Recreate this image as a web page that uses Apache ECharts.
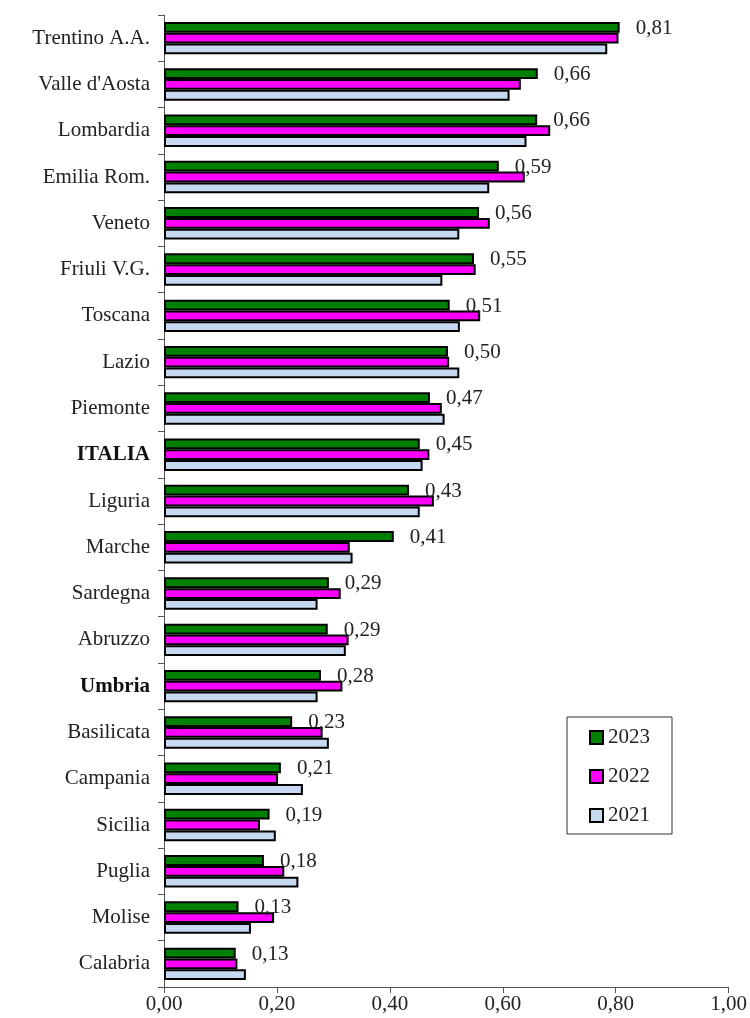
<!DOCTYPE html>
<html>
<head>
<meta charset="utf-8">
<script src="https://cdn.jsdelivr.net/npm/echarts@6/dist/echarts.min.js"></script>
<style>
html,body{margin:0;padding:0;background:#fff;}
#chart{width:750px;height:1018px;}
</style>
</head>
<body>
<div id="chart"></div>
<script>
const categories = ["Trentino A.A.","Valle d'Aosta","Lombardia","Emilia Rom.","Veneto","Friuli V.G.","Toscana","Lazio","Piemonte","ITALIA","Liguria","Marche","Sardegna","Abruzzo","Umbria","Basilicata","Campania","Sicilia","Puglia","Molise","Calabria"];
const boldCategories = ["ITALIA","Umbria"];
const values2023 = [0.807,0.662,0.661,0.593,0.558,0.549,0.506,0.503,0.471,0.453,0.434,0.407,0.292,0.290,0.278,0.227,0.207,0.187,0.177,0.132,0.127];
const values2022 = [0.805,0.632,0.684,0.639,0.577,0.552,0.560,0.505,0.492,0.470,0.478,0.329,0.313,0.327,0.316,0.281,0.202,0.170,0.213,0.195,0.130];
const values2021 = [0.785,0.612,0.642,0.576,0.523,0.493,0.524,0.523,0.497,0.458,0.453,0.334,0.272,0.322,0.272,0.292,0.246,0.198,0.238,0.154,0.145];
const seriesNames = ["2023","2022","2021"];
const xTicks = {min:0, max:1, interval:0.2};

const FONT = "Liberation Serif";
const fmt = v => v.toFixed(2).replace('.', ',');
const chart = echarts.init(document.getElementById('chart'), null, {renderer:'canvas'});

const mk = (name, data, color, withLabel) => ({
  name: name,
  type: 'bar',
  data: data,
  barGap: '0%',
  barCategoryGap: '30%',
  itemStyle: {color: color, borderColor: '#000', borderWidth: 2},
  label: withLabel ? {
    show: true, position: 'right', distance: 16, offset: [0, 1],
    fontFamily: FONT, fontSize: 21, color: '#222',
    formatter: p => fmt(p.value)
  } : {show: false},
  emphasis: {disabled: true},
  animation: false
});

chart.setOption({
  animation: false,
  textStyle: {fontFamily: FONT},
  grid: {left: 164, right: 21, top: 15, bottom: 31, containLabel: false},
  legend: {
    data: seriesNames,
    orient: 'vertical',
    left: 567, top: 717,
    padding: [10, 22, 8, 22],
    itemGap: 18,
    itemWidth: 13, itemHeight: 13,
    icon: 'rect',
    borderColor: '#333', borderWidth: 1,
    backgroundColor: '#fff',
    textStyle: {fontFamily: FONT, fontSize: 21, color: '#222', lineHeight: 20}
  },
  xAxis: {
    type: 'value',
    min: xTicks.min, max: xTicks.max, interval: xTicks.interval,
    axisLine: {show: true, lineStyle: {color: '#555', width: 1}},
    axisTick: {show: true, length: 6, lineStyle: {color: '#555'}},
    splitLine: {show: false},
    axisLabel: {fontFamily: FONT, fontSize: 21, color: '#222', margin: 7, formatter: v => fmt(v)}
  },
  yAxis: {
    type: 'category',
    data: categories,
    inverse: true,
    axisLine: {show: true, lineStyle: {color: '#555', width: 1}},
    axisTick: {show: true, length: 6, lineStyle: {color: '#555'}},
    axisLabel: {
      fontFamily: FONT, fontSize: 21, color: '#222', margin: 14,
      formatter: v => boldCategories.includes(v) ? '{b|' + v + '}' : v,
      rich: {b: {fontFamily: FONT, fontSize: 21, fontWeight: 'bold', color: '#111'}}
    }
  },
  series: [
    mk(seriesNames[0], values2023, '#008000', true),
    mk(seriesNames[1], values2022, '#ff00ff', false),
    mk(seriesNames[2], values2021, '#c6d9f1', false)
  ]
});
</script>
</body>
</html>
